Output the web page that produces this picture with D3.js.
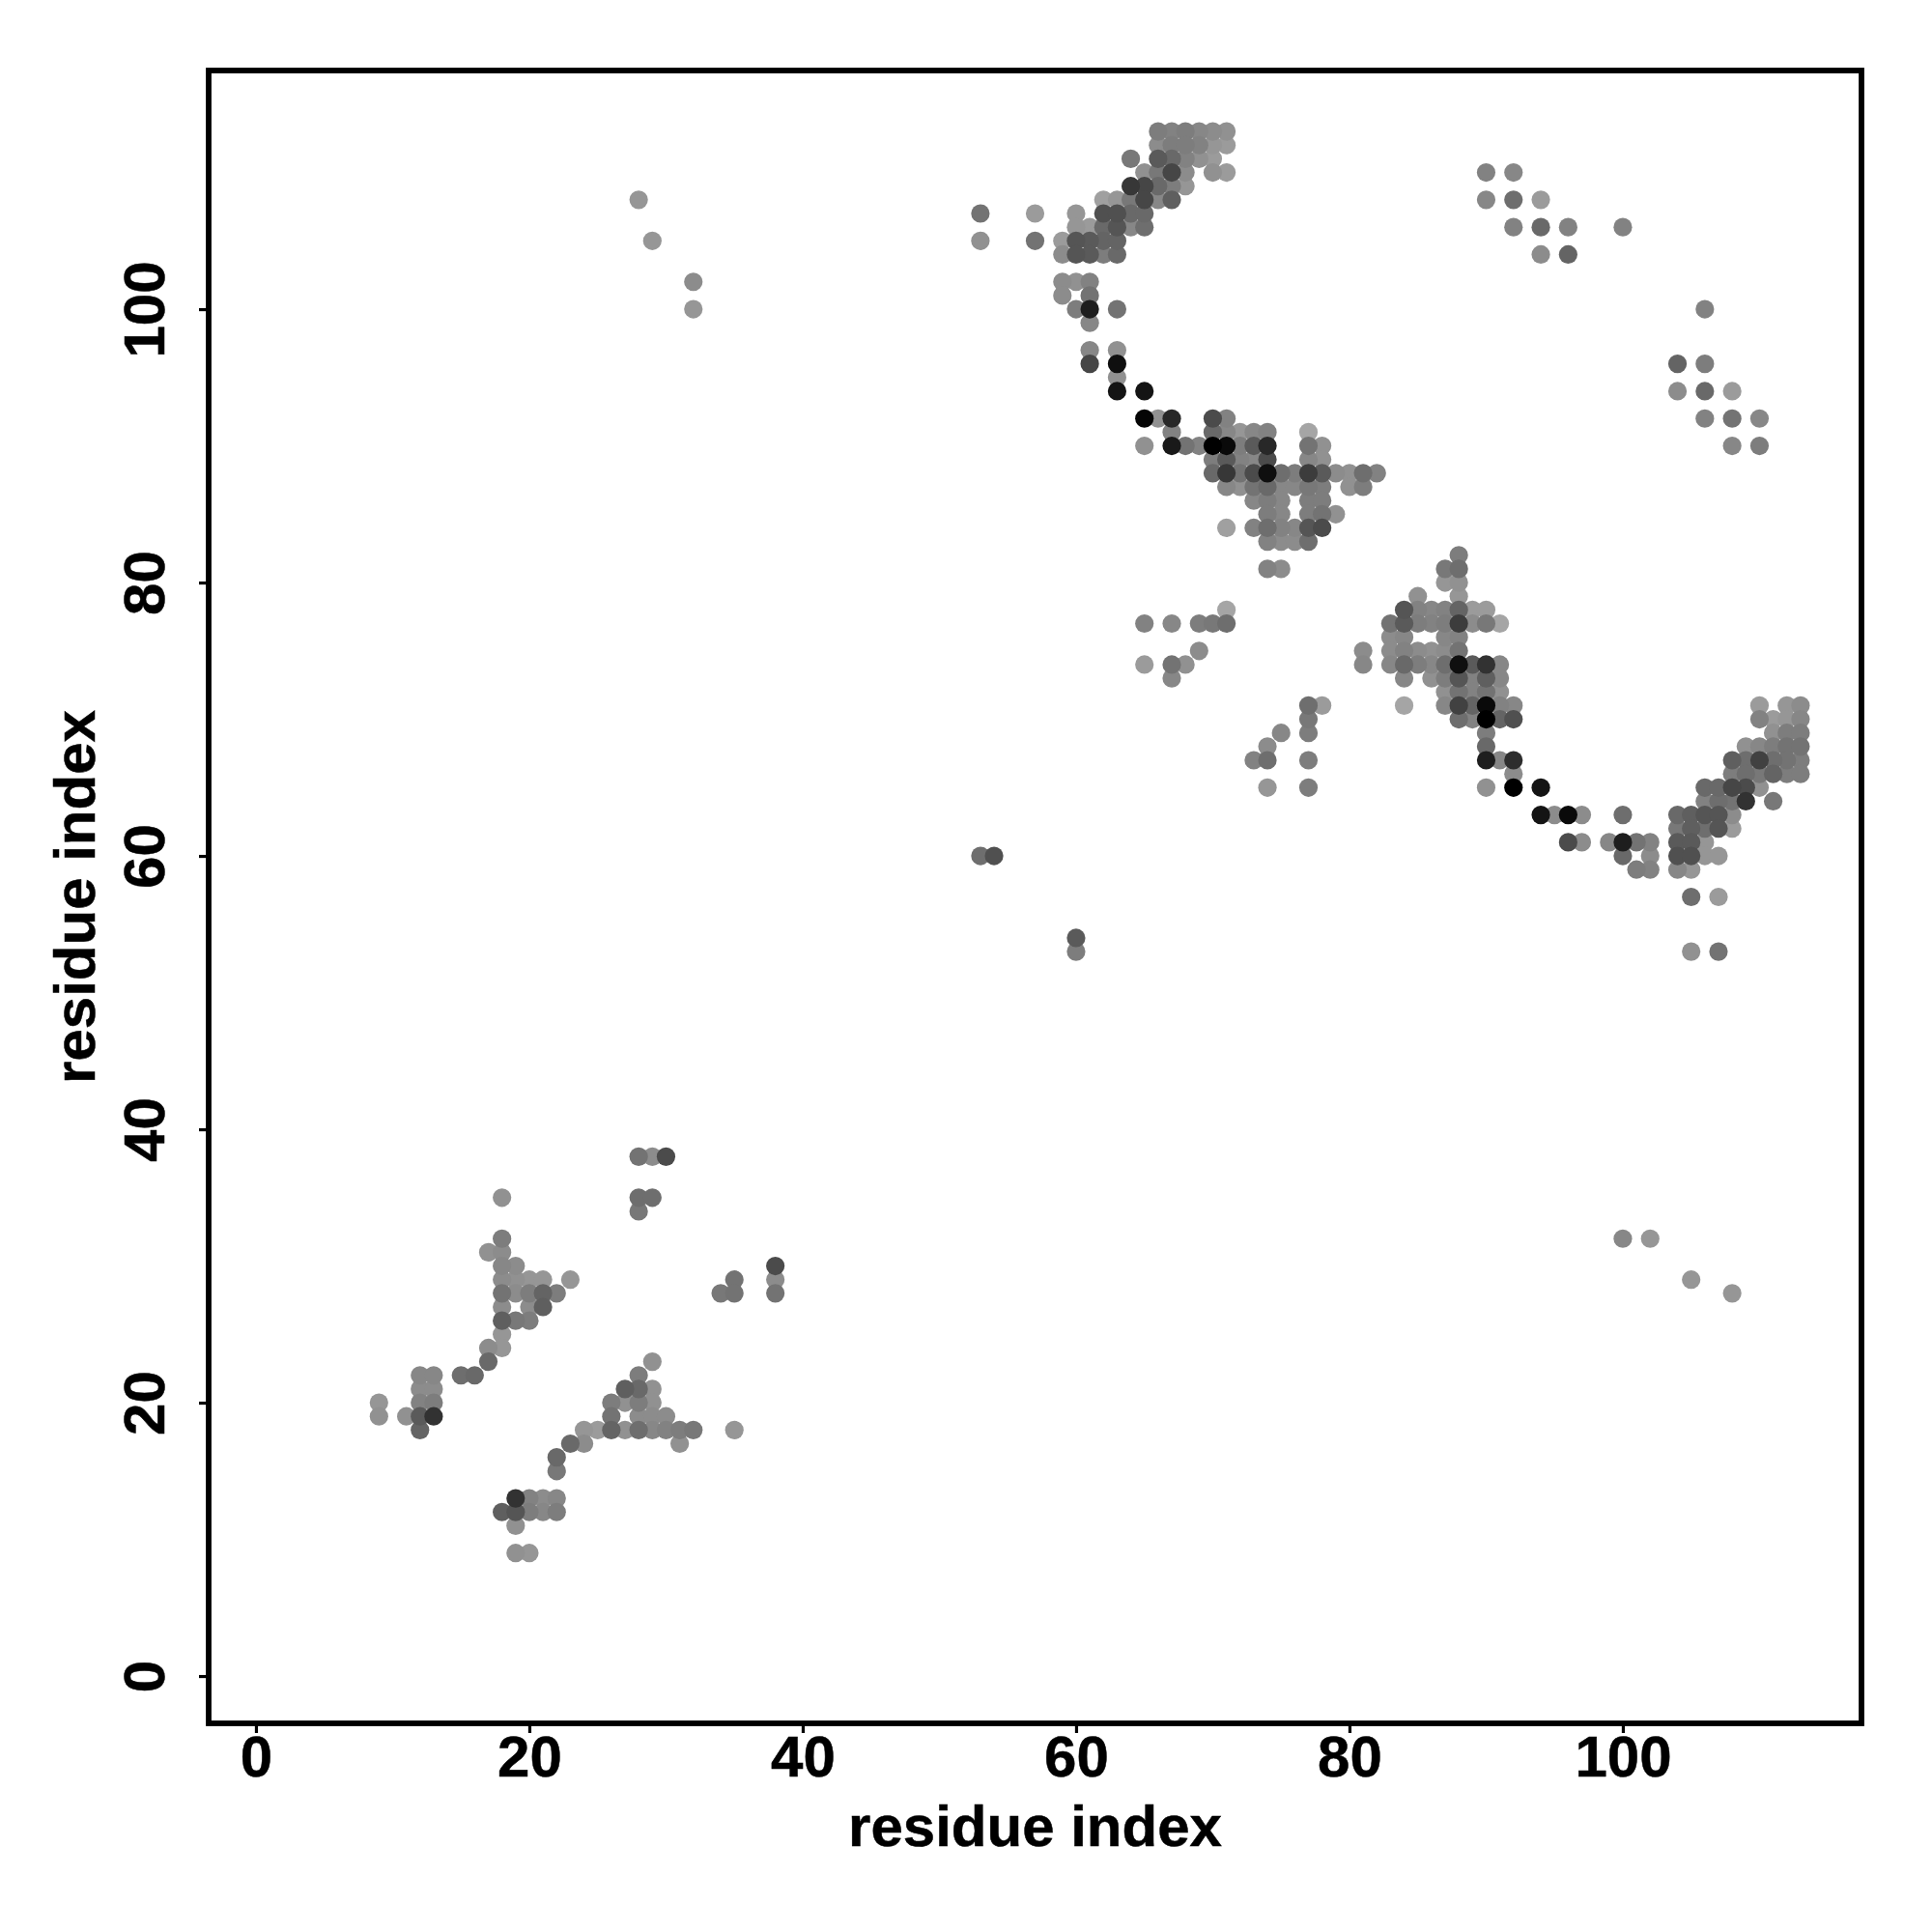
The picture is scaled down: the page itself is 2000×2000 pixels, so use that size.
<!DOCTYPE html>
<html>
<head>
<meta charset="utf-8">
<script src="https://cdn.jsdelivr.net/npm/d3@7"></script>
<style>
html,body{margin:0;padding:0;background:#fff}
svg{display:block}
text{font-family:"Liberation Sans",Arial,sans-serif;font-weight:700;fill:#000;stroke:#000;stroke-width:0.5px}
</style>
</head>
<body>
<div id="chart"></div>
<script>
const xTickLabels = [0,20,40,60,80,100];
const yTickLabels = [0,20,40,60,80,100];
const xAxisTitle = "residue index";
const yAxisTitle = "residue index";

// One entry per row of the map: the residue on y, its partners on x, their grey level (0 black - 255 white).
const rowResidues = [113,112,111,110,109,108,107,106,105,104,102,101,100,99,97,96,95,94,92,91,90,89,88,87,86,85,84,83,82,81,80,79,78,77,76,75,74,73,72,71,70,69,68,67,66,65,64,63,62,61,60,59,57,54,53,38,35,34,32,31,30,29,28,27,26,25,24,23,22,21,20,19,18,17,16,15,13,12,11,9];
const rowPartners = [
[66,67,68,69,70,71],
[66,67,68,69,70,71],
[64,66,67,68,69,70],
[65,66,67,68,70,71,90,92],
[64,65,66,67,68],
[28,62,63,64,65,66,67,90,92,94],
[53,57,60,62,63,64,65],
[60,61,62,63,64,65,92,94,96,100],
[29,53,57,59,60,61,62,63],
[59,60,61,62,63,94,96],
[32,59,60,61],
[59,61],
[32,60,61,63,106],
[61],
[61,63],
[61,63,104,106],
[63],
[63,65,104,106,108],
[65,66,67,70,71,106,108,110],
[67,70,71,72,73,74,77],
[65,67,68,69,70,71,72,73,74,77,78,108,110],
[70,71,72,73,74,77,78],
[70,71,72,73,74,75,76,77,78,79,80,81,82],
[71,72,73,74,75,76,77,78,80,81],
[73,74,75,77,78],
[74,75,77,78,79],
[71,73,74,75,76,77,78],
[74,75,76,77],
[88],
[74,75,87,88],
[87,88],
[85,88],
[71,84,85,86,87,88,89,90],
[65,67,69,70,71,83,84,85,86,87,88,89,90,91],
[83,84,87,88],
[69,81,83,84,85,86,87,88],
[65,67,68,81,83,84,85,86,87,88,89,90,91],
[67,84,86,87,88,89,90,91],
[87,88,89,90,91],
[77,78,84,87,88,89,90,91,92,110,112,113],
[77,88,89,90,91,92,110,111,112,113],
[75,77,90,111,112,113],
[74,90,109,110,111,112,113],
[73,74,77,90,91,92,108,109,110,111,112,113],
[92,108,109,110,111,112,113],
[74,77,90,92,94,106,107,108,109,110],
[106,107,108,109,111],
[94,95,96,97,100,104,105,106,107,108],
[104,105,106,107,108],
[96,97,99,100,101,102,104,105,106],
[53,54,100,102,104,105,106,107],
[101,102,104,105],
[105,107],
[60],
[60,105,107],
[28,29,30],
[18,28,29],
[28],
[18,100,102],
[17,18],
[18,19,38],
[18,19,20,21,23,35,38,105],
[18,19,20,21,22,34,35,38,108],
[18,20,21],
[18,19,20],
[18],
[17,18],
[17,29],
[12,13,15,16,28],
[12,13,27,28,29],
[9,12,13,26,27,28,29],
[9,11,12,13,26,28,29,30],
[12,24,25,26,27,28,29,30,31,32,35],
[23,24,31],
[22],
[22],
[19,20,21,22],
[18,19,20,21,22],
[19],
[19,20]
];
const rowGrays = [
[125,130,125,135,140,145],
[140,125,125,130,150,155],
[120,90,105,130,145,155],
[145,120,70,140,145,155,130,135],
[55,70,105,125,150],
[150,160,150,120,70,135,95,135,110,155],
[115,155,150,80,80,105,105],
[150,155,105,85,135,110,130,105,130,130],
[150,145,115,155,85,90,100,100],
[140,85,90,125,105,140,100],
[140,140,145,130],
[140,115],
[150,125,30,115,130],
[135],
[135,145],
[70,15,100,125],
[145],
[20,20,140,105,155],
[5,145,40,75,130,130,115,135],
[130,105,135,150,135,130,165],
[145,25,115,130,0,10,125,90,40,115,145,135,125],
[125,90,130,135,75,135,145],
[105,55,115,75,15,110,125,60,90,140,145,110,130],
[135,145,115,105,135,135,120,125,145,125],
[135,125,135,125,125],
[125,135,125,115,145],
[160,130,110,130,135,85,75],
[130,140,140,110],
[125],
[130,140,120,110],
[150,145],
[145,150],
[165,85,130,135,130,100,155,155],
[130,135,125,120,110,115,90,125,130,125,60,140,120,165],
[140,135,135,130],
[140,140,140,130,140,145,140,115],
[155,115,145,135,135,105,125,135,110,15,90,50,135],
[135,135,145,125,85,130,95,135],
[145,115,130,115,145],
[110,155,165,135,65,100,10,130,135,155,150,140],
[120,110,130,0,100,80,130,155,150,135],
[135,125,125,145,125,125],
[140,105,145,135,125,115,115],
[130,110,125,30,135,45,95,110,65,110,115,125],
[140,125,110,120,100,125,125],
[150,125,145,0,20,105,105,70,75,145],
[130,110,115,50,120],
[20,140,10,140,110,105,95,85,85,140],
[120,95,110,85,155],
[75,140,135,30,115,130,90,90,150],
[110,80,105,140,80,80,150,150],
[125,130,135,150],
[110,155],
[90],
[125,145,115],
[115,140,75],
[145,110,110],
[120],
[125,135,150],
[145,140],
[135,140,75],
[140,145,150,150,150,115,140,150],
[115,140,125,100,125,120,115,115,150],
[140,140,95],
[95,120,125],
[150],
[140,150],
[105,145],
[135,135,110,105,125],
[140,140,95,105,145],
[150,130,125,125,145,125,145],
[145,145,90,50,115,140,140,140],
[100,150,155,100,145,110,135,130,125,120,150],
[105,140,145],
[105],
[120],
[50,130,140,135],
[95,85,125,135,125],
[145],
[145,150]
];

const W = 2000, H = 2000;
const frame = {left:216, right:1927, top:73, bottom:1784};
const pointRadius = 9.6;

const x = d3.scaleLinear().domain([-3.46,117.46]).range([frame.left,frame.right]);
const y = d3.scaleLinear().domain([-3.46,117.46]).range([frame.bottom,frame.top]);
const grey = d3.scaleLinear().domain([0,255]).range(["#000000","#ffffff"]);

const points = rowResidues.flatMap((r,i) => rowPartners[i].map((p,j) => ({x:p,y:r,g:rowGrays[i][j]})))
  .sort((a,b) => b.g - a.g);

const svg = d3.select("#chart").append("svg").attr("width",W).attr("height",H);
svg.append("rect").attr("width",W).attr("height",H).attr("fill","#fff");

svg.append("g").selectAll("circle").data(points).join("circle")
  .attr("cx",d => x(d.x)).attr("cy",d => y(d.y)).attr("r",pointRadius)
  .attr("fill",d => grey(d.g));

const gx = svg.append("g").attr("transform",`translate(0,${frame.bottom})`)
  .call(d3.axisBottom(x).tickValues(xTickLabels).tickFormat(d3.format("d")).tickSize(10));
gx.select(".domain").remove();
gx.selectAll("line").attr("stroke","#000").attr("stroke-width",3.2);
gx.selectAll("text").attr("y",55).attr("dy",0).attr("font-size",60).attr("font-family",null);

const gy = svg.append("g").attr("transform",`translate(${frame.left},0)`)
  .call(d3.axisLeft(y).tickValues(yTickLabels).tickFormat(d3.format("d")).tickSize(10));
gy.select(".domain").remove();
gy.selectAll("line").attr("stroke","#000").attr("stroke-width",3.2);
gy.selectAll("text").attr("x",0).attr("y",-46).attr("dy",0)
  .attr("text-anchor","middle").attr("transform","rotate(-90)")
  .attr("font-size",60).attr("font-family",null);

svg.append("rect")
  .attr("x",frame.left).attr("y",frame.top)
  .attr("width",frame.right-frame.left).attr("height",frame.bottom-frame.top)
  .attr("fill","none").attr("stroke","#000").attr("stroke-width",5.8);

svg.append("text").attr("x",(frame.left+frame.right)/2).attr("y",1911)
  .attr("text-anchor","middle").attr("font-size",60).text(xAxisTitle);
svg.append("text").attr("transform",`translate(98,${(frame.top+frame.bottom)/2}) rotate(-90)`)
  .attr("text-anchor","middle").attr("font-size",60).text(yAxisTitle);

rowPartners.forEach((p,i)=>{ if(p.length!==rowGrays[i].length) console.error("row mismatch",rowResidues[i]); });
</script>
</body>
</html>
